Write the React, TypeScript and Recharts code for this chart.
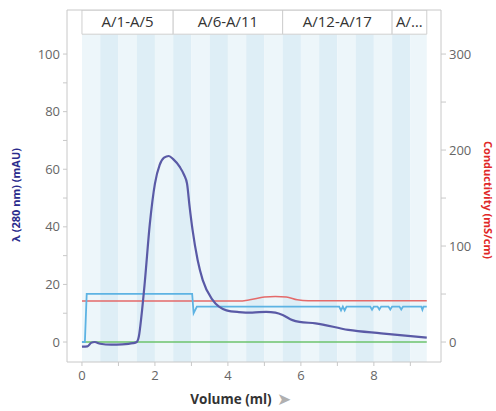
import React from 'react';
import { ComposedChart, Line, XAxis, YAxis, ReferenceArea, ReferenceLine } from 'recharts';

const uvX = [0, 0.15, 0.25, 0.35, 0.5, 0.8, 1.1, 1.4, 1.5, 1.56, 1.63, 1.72, 1.86, 2.0, 2.13, 2.25, 2.38, 2.5, 2.68, 2.8, 2.88, 2.95, 3.03, 3.17, 3.31, 3.58, 3.96, 4.3, 4.67, 5.05, 5.3, 5.5, 5.77, 5.96, 6.4, 7.3, 8.2, 9.45];
const uvY = [-1.6, -1.5, -0.3, 0, -0.6, -0.9, -0.8, -0.4, 0, 2, 9, 20.5, 41, 55, 61.5, 64, 64.6, 63.5, 60.8, 58, 55, 47, 39, 28.5, 21.5, 14.6, 11, 10.4, 10.2, 10.5, 10.2, 9.4, 7.6, 7, 6.5, 4.2, 3.0, 1.5];

const flowX = [0, 0.08, 0.13, 3.02, 3.06, 3.15, 7.05, 7.1, 7.15, 7.2, 7.25, 7.9, 7.95, 8.0, 8.1, 8.15, 8.2, 8.4, 8.45, 8.5, 8.7, 8.75, 8.8, 9.3, 9.33, 9.36, 9.45];
const flowY = [0, 0, 16.7, 16.7, 10, 12.3, 12.3, 11, 12.3, 11, 12.3, 12.3, 11.2, 12.3, 12.3, 11.3, 12.3, 12.3, 11.3, 12.3, 12.3, 11.3, 12.3, 12.3, 11.2, 12.3, 12.3];

const condX = [0, 4.3, 4.6, 5.0, 5.3, 5.6, 5.9, 6.2, 9.45];
const condY = [42.7, 42.7, 44.0, 46.8, 47.5, 47.0, 44.0, 43.0, 43.0];

const baseX = [0, 9.45];
const baseY = [0, 0];

const fractionWidth = 0.5;
const fractionCount = 19;
const fractionEnd = 9.45;

const headerLabels = ['A/1-A/5', 'A/6-A/11', 'A/12-A/17', 'A/…'];
const headerStarts = [0, 2.5, 5.5, 8.5];
const headerEnds = [2.5, 5.5, 8.5, 9.45];

const leftTicks = [0, 10, 20, 30, 40, 50, 60, 70, 80, 90, 100];
const rightTicks = [0, 50, 100, 150, 200, 250, 300];
const xTicks = [0, 1, 2, 3, 4, 5, 6, 7, 8, 9];

const toPts = (xs: number[], ys: number[]) => xs.map((x, i) => ({ x, y: ys[i] }));
const uvData = toPts(uvX, uvY);
const flowData = toPts(flowX, flowY);
const condData = toPts(condX, condY);
const baseData = toPts(baseX, baseY);

const LEFT_DOMAIN: [number, number] = [-6.94, 115.3];
const RIGHT_DOMAIN: [number, number] = [-20.8, 345.9];
const HEADER_BOTTOM = 106.9;
const FONT = '"Open Sans", "Noto Sans", sans-serif';

const stripes = Array.from({ length: fractionCount }, (_, i) => ({
  x1: i * fractionWidth,
  x2: Math.min((i + 1) * fractionWidth, fractionEnd),
  fill: i % 2 === 0 ? '#edf6fa' : '#deeef6',
}));

export default function App() {
  return (
    <div style={{ position: 'absolute', left: 0, top: 0 }}>
      <ComposedChart width={496} height={411} margin={{ top: 10, right: 15, bottom: 19, left: 17 }}>
        <XAxis
          dataKey="x"
          type="number"
          domain={[-0.41, 9.84]}
          ticks={xTicks}
          tickFormatter={(v: number) => (v % 2 === 0 ? String(v) : '')}
          allowDataOverflow
          height={30}
          stroke="#c8c8c8"
          tickSize={4}
          tickMargin={5}
          tick={{ fill: '#666', fontSize: 13, fontFamily: FONT }}
          label={{
            content: () => (
              <g>
                <text x={231} y={404} textAnchor="middle" fontFamily={FONT} fontSize={13.5} fontWeight="bold" fill="#333">
                  Volume (ml)
                </text>
                <text x={284} y={405} textAnchor="middle" fontFamily={FONT} fontSize={17} fill="#b0b0b0">
                  ➤
                </text>
              </g>
            ),
          }}
        />
        <YAxis
          yAxisId="left"
          domain={LEFT_DOMAIN}
          allowDataOverflow
          ticks={leftTicks}
          tickFormatter={(v: number) => (v % 20 === 0 ? String(v) : '')}
          width={50}
          stroke="#c8c8c8"
          tickSize={4}
          tickMargin={3}
          tick={{ fill: '#666', fontSize: 13, fontFamily: FONT }}
          label={{
            content: () => (
              <text
                x={17}
                y={195}
                transform="rotate(-90 17 195)"
                textAnchor="middle"
                dominantBaseline="middle"
                fontFamily={FONT}
                fontSize={11}
                fontWeight="bold"
                fill="#2b2b8c"
              >
                λ (280 nm) (mAU)
              </text>
            ),
          }}
        />
        <YAxis
          yAxisId="right"
          orientation="right"
          domain={RIGHT_DOMAIN}
          allowDataOverflow
          ticks={rightTicks}
          tickFormatter={(v: number) => (v % 100 === 0 ? String(v) : '')}
          width={40}
          stroke="#c8c8c8"
          tickSize={5}
          tickMargin={3}
          tick={{ fill: '#666', fontSize: 13, fontFamily: FONT }}
          label={{
            content: () => (
              <text
                x={487}
                y={200}
                transform="rotate(90 487 200)"
                textAnchor="middle"
                dominantBaseline="middle"
                fontFamily={FONT}
                fontSize={11}
                fontWeight="bold"
                fill="#e02828"
              >
                Conductivity (mS/cm)
              </text>
            ),
          }}
        />
        {stripes.map((s, i) => (
          <ReferenceArea
            key={'s' + i}
            yAxisId="left"
            x1={s.x1}
            x2={s.x2}
            y1={LEFT_DOMAIN[0]}
            y2={HEADER_BOTTOM}
            fill={s.fill}
            fillOpacity={1}
            stroke="none"
            ifOverflow="hidden"
          />
        ))}
        {headerLabels.map((lab, i) => (
          <ReferenceArea
            key={'h' + i}
            yAxisId="left"
            x1={headerStarts[i]}
            x2={headerEnds[i]}
            y1={HEADER_BOTTOM}
            y2={LEFT_DOMAIN[1]}
            fill="#ffffff"
            fillOpacity={1}
            stroke="#cfcfcf"
            strokeWidth={1}
            ifOverflow="hidden"
            label={{ value: lab, position: 'center', fill: '#333', fontSize: 15, fontFamily: FONT }}
          />
        ))}
        <ReferenceLine yAxisId="left" y={LEFT_DOMAIN[1]} stroke="#c8c8c8" ifOverflow="visible" />
        <Line yAxisId="left" data={baseData} dataKey="y" type="linear" stroke="#6cc36c" strokeWidth={1.5} dot={false} isAnimationActive={false} />
        <Line yAxisId="right" data={condData} dataKey="y" type="monotone" stroke="#e46a6a" strokeWidth={1.5} dot={false} isAnimationActive={false} />
        <Line yAxisId="left" data={flowData} dataKey="y" type="linear" stroke="#5db3e3" strokeWidth={1.8} dot={false} isAnimationActive={false} />
        <Line yAxisId="left" data={uvData} dataKey="y" type="monotone" stroke="#5a5aa6" strokeWidth={2.2} dot={false} isAnimationActive={false} />
      </ComposedChart>
    </div>
  );
}
